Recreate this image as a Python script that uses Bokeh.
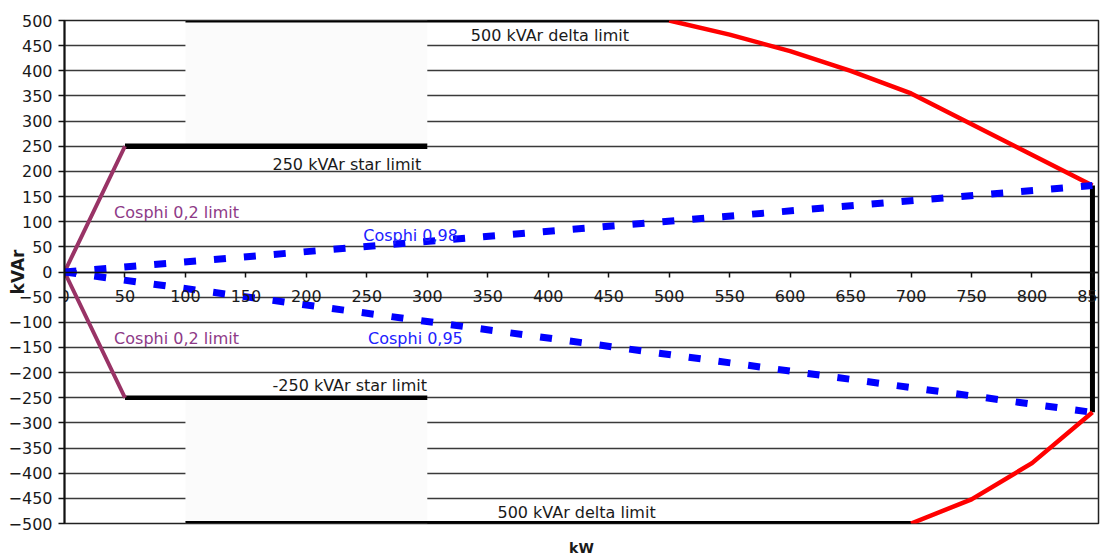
from bokeh.plotting import figure
from bokeh.models import FixedTicker, Range1d, Label, LinearAxis
from bokeh.embed import file_html
from bokeh.resources import INLINE

# ---- data ----
x_ticks = [0, 50, 100, 150, 200, 250, 300, 350, 400, 450, 500, 550, 600, 650, 700, 750, 800, 850]
y_ticks = [-500, -450, -400, -350, -300, -250, -200, -150, -100, -50, 0,
           50, 100, 150, 200, 250, 300, 350, 400, 450, 500]

# blanked plot-area regions (kW, kVAr)
mask_left = [100, 100]
mask_right = [300, 300]
mask_top = [500, -250]
mask_bottom = [250, -500]

# limit lines (kW, kVAr)
delta_top_p = [100, 500]
delta_top_q = [500, 500]
star_top_p = [50, 300]
star_top_q = [250, 250]
star_bot_p = [50, 300]
star_bot_q = [-250, -250]
delta_bot_p = [100, 700]
delta_bot_q = [-500, -500]
pmax_p = [850, 850]
pmax_q = [172, -279]

red_top_p = [500, 550, 600, 650, 700, 850]
red_top_q = [500, 472, 439, 400, 355, 172]
red_bot_p = [700, 750, 800, 850]
red_bot_q = [-500, -452, -380, -279]

cos02_p = [50, 0, 50]
cos02_q = [250, 0, -250]
cos98_p = [0, 850]
cos98_q = [0, 172]
cos95_p = [0, 850]
cos95_q = [0, -279]

FONT = "DejaVu Sans"

p = figure(width=1112, height=558, x_range=Range1d(0, 855), y_range=Range1d(-500, 500),
           output_backend="svg", toolbar_location=None,
           min_border_left=64, min_border_right=14, min_border_top=20, min_border_bottom=35)
p.background_fill_color = "white"
p.border_fill_color = "white"
p.outline_line_color = "#222222"
p.outline_line_width = 1.5

# grid
p.xgrid.visible = False
p.ygrid.ticker = FixedTicker(ticks=y_ticks)
p.ygrid.grid_line_color = "#3a3a3a"
p.ygrid.grid_line_width = 1.5

# y axis
yax = p.left[0]
yax.ticker = FixedTicker(ticks=y_ticks)
yax.major_tick_out = 6
yax.major_tick_in = 0
yax.minor_tick_line_color = None
yax.major_label_standoff = 6
yax.major_label_text_font = FONT
yax.major_label_text_font_size = "16px"
yax.major_label_text_color = "#1a1a1a"
yax.axis_line_width = 2
yax.axis_line_color = "#111111"
yax.major_tick_line_color = "#111111"
yax.major_tick_line_width = 1.5
yax.axis_label = "kVAr"
yax.axis_label_text_font = FONT
yax.axis_label_text_font_size = "17px"
yax.axis_label_text_font_style = "bold"
yax.axis_label_text_color = "#1a1a1a"
yax.axis_label_standoff = -22

# x axis crossing at 0
xax = p.below[0]
xax.ticker = FixedTicker(ticks=x_ticks)
xax.fixed_location = 0
xax.major_tick_out = 5
xax.major_tick_in = 0
xax.minor_tick_line_color = None
xax.major_label_standoff = 13
xax.major_label_text_font = FONT
xax.major_label_text_font_size = "16px"
xax.major_label_text_color = "#1a1a1a"
xax.axis_line_color = "#111111"
xax.axis_line_width = 1.5
xax.major_tick_line_color = "#111111"
xax.major_tick_line_width = 1.5

# axis title below the plot area
kw_axis = LinearAxis(axis_label="kW", ticker=FixedTicker(ticks=[]),
                     major_tick_out=0, major_tick_in=0, minor_tick_out=0, minor_tick_in=0,
                     axis_line_color=None, major_label_text_font_size="0px",
                     axis_label_standoff=16, axis_label_text_font=FONT,
                     axis_label_text_font_size="14px", axis_label_text_font_style="bold",
                     axis_label_text_color="#1a1a1a")
p.add_layout(kw_axis, "below")

# masks
p.quad(left=mask_left, right=mask_right, top=mask_top, bottom=mask_bottom,
       fill_color="#fbfbfb", line_color=None)

# limit lines
for xs, ys, w in [(delta_top_p, delta_top_q, 4), (star_top_p, star_top_q, 5.5),
                  (star_bot_p, star_bot_q, 4.5), (delta_bot_p, delta_bot_q, 5),
                  (pmax_p, pmax_q, 5)]:
    p.line(xs, ys, line_color="black", line_width=w)

p.line(red_top_p, red_top_q, line_color="#ff0000", line_width=4.5)
p.line(red_bot_p, red_bot_q, line_color="#ff0000", line_width=4.5)
p.line(cos02_p, cos02_q, line_color="#993366", line_width=4)
p.line(cos98_p, cos98_q, line_color="#0000ff", line_width=7, line_dash="12 18")
p.line(cos95_p, cos95_q, line_color="#0000ff", line_width=7, line_dash="12 18")

# annotations
notes = [
    ("500 kVAr delta limit", 336, 471, "#1a1a1a"),
    ("250 kVAr star limit", 172, 214, "#1a1a1a"),
    ("Cosphi 0,2 limit", 41, 118, "#8e3a87"),
    ("Cosphi 0,98", 247, 73, "#2020ff"),
    ("Cosphi 0,2 limit", 41, -132, "#8e3a87"),
    ("Cosphi 0,95", 251, -132, "#2020ff"),
    ("-250 kVAr star limit", 172, -226, "#1a1a1a"),
    ("500 kVAr delta limit", 358, -479, "#1a1a1a"),
]
for t, x, y, c in notes:
    p.add_layout(Label(x=x, y=y, text=t, text_font=FONT, text_font_size="16px",
                       text_color=c, text_baseline="middle", text_align="left"))

open("out.html", "w").write(file_html(p, INLINE))
